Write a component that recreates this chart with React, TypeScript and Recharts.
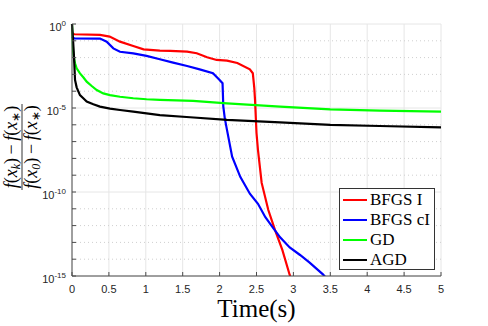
import React from "react";
import {
  CartesianGrid,
  Legend,
  Line,
  LineChart,
  ReferenceLine,
  XAxis,
  YAxis,
} from "recharts";

// values are log10 of the relative gap
const bfgsT = [0, 0.03, 0.38, 0.51, 0.65, 0.83, 0.97, 1.19, 1.33, 1.56, 1.69, 1.83, 1.96, 2.1, 2.24, 2.41, 2.45, 2.47, 2.48, 2.5, 2.52, 2.57, 2.66, 2.75, 2.85, 2.95, 2.98];
const bfgsLog = [-0.55, -0.61, -0.65, -0.75, -1.05, -1.31, -1.51, -1.59, -1.6, -1.65, -1.74, -1.98, -2.14, -2.18, -2.32, -2.7, -2.93, -3.8, -4.52, -6.49, -7.5, -9.46, -11.07, -12.26, -13.45, -14.94, -15.3];

const bfgsCT = [0, 0.03, 0.38, 0.47, 0.56, 0.65, 0.83, 1.01, 1.19, 1.37, 1.56, 1.73, 1.91, 2.0, 2.04, 2.05, 2.07, 2.1, 2.17, 2.28, 2.41, 2.52, 2.62, 2.72, 2.82, 2.95, 3.09, 3.22, 3.4, 3.46];
const bfgsCLog = [-0.75, -0.85, -0.87, -1.05, -1.45, -1.65, -1.75, -1.9, -2.1, -2.3, -2.5, -2.7, -2.93, -3.33, -3.53, -4.9, -5.6, -6.3, -7.9, -9.1, -10.1, -10.7, -11.5, -12.1, -12.7, -13.3, -13.75, -14.2, -14.9, -15.2];

const gdT = [0, 0.015, 0.027, 0.041, 0.063, 0.108, 0.153, 0.199, 0.267, 0.335, 0.424, 0.515, 0.65, 0.83, 1.01, 1.19, 1.64, 2.1, 2.82, 3.5, 4.17, 5];
const gdLog = [0, -1.6, -2.04, -2.34, -2.64, -2.94, -3.17, -3.43, -3.69, -3.93, -4.13, -4.23, -4.33, -4.42, -4.48, -4.52, -4.58, -4.72, -4.92, -5.08, -5.16, -5.22];

const agdT = [0, 0.012, 0.027, 0.041, 0.063, 0.108, 0.153, 0.199, 0.289, 0.379, 0.515, 0.65, 0.83, 1.01, 1.19, 1.6, 2.1, 2.82, 3.5, 4.17, 5];
const agdLog = [0, -0.8, -1.94, -3.33, -3.77, -4.23, -4.42, -4.62, -4.78, -4.92, -5.04, -5.12, -5.22, -5.32, -5.42, -5.55, -5.71, -5.85, -6.01, -6.07, -6.15];

const xTicks = [0, 0.5, 1, 1.5, 2, 2.5, 3, 3.5, 4, 4.5, 5];
const decades = [0, -1, -2, -3, -4, -5, -6, -7, -8, -9, -10, -11, -12, -13, -14, -15];
const yTicks = decades.map((d) => Math.pow(10, d));

const series = [
  { name: "BFGS I", color: "#ff0000", t: bfgsT, v: bfgsLog },
  { name: "BFGS cI", color: "#0000ff", t: bfgsCT, v: bfgsCLog },
  { name: "GD", color: "#00ff00", t: gdT, v: gdLog },
  { name: "AGD", color: "#000000", t: agdT, v: agdLog },
];

const toRows = (t: number[], v: number[]) =>
  t.map((x, i) => ({ t: x, y: Math.pow(10, v[i]) }));

const PLOT = { left: 72, right: 441, top: 24, bottom: 276 };
const AXIS = "#4a4a4a";
const TICK_FONT = "'Liberation Sans', Arial, sans-serif";
const SERIF = "'Liberation Serif', 'Times New Roman', serif";

const LeftTick = ({ y, payload }: any) => {
  const e = Math.round(Math.log10(payload.value));
  return (
    <g>
      <line x1={PLOT.left} x2={PLOT.left + 4} y1={y} y2={y} stroke={AXIS} />
      {e % 5 === 0 && (
        <text
          x={PLOT.left - 6}
          y={y + 6.5}
          textAnchor="end"
          fontFamily={TICK_FONT}
          fontSize={11}
          fill="#262626"
        >
          10
          <tspan dy={-5} fontSize={8}>
            {e === 0 ? "0" : String(e)}
          </tspan>
        </text>
      )}
    </g>
  );
};

const RightTick = ({ y }: any) => (
  <line x1={PLOT.right - 4} x2={PLOT.right} y1={y} y2={y} stroke={AXIS} />
);

const BottomTick = ({ x, payload }: any) => (
  <g>
    <line x1={x} x2={x} y1={PLOT.bottom} y2={PLOT.bottom - 4} stroke={AXIS} />
    <text
      x={x}
      y={293}
      textAnchor="middle"
      fontFamily={TICK_FONT}
      fontSize={11}
      fill="#262626"
    >
      {payload.value}
    </text>
  </g>
);

const TopTick = ({ x }: any) => (
  <line x1={x} x2={x} y1={PLOT.top} y2={PLOT.top + 4} stroke={AXIS} />
);

const Frac = ({ y, sub }: { y: number; sub: string }) => (
  <text x={0} y={y} textAnchor="middle" fontFamily={SERIF} fontSize={18}>
    <tspan fontStyle="italic">f</tspan>
    <tspan>(</tspan>
    <tspan fontStyle="italic">x</tspan>
    <tspan dy={3} fontSize={12} fontStyle="italic">{sub}</tspan>
    <tspan dy={-3}>{")\u2009\u2212\u2009"}</tspan>
    <tspan fontStyle="italic">f</tspan>
    <tspan>(</tspan>
    <tspan fontStyle="italic">x</tspan>
    <tspan dy={3} fontSize={12}>∗</tspan>
    <tspan dy={-3}>)</tspan>
  </text>
);

const YLabel = () => (
  <g transform="translate(22,147) rotate(-90)">
    <Frac y={-5} sub="k" />
    <line x1={-43} x2={43} y1={0} y2={0} stroke="#000" strokeWidth={0.8} />
    <Frac y={15} sub="0" />
  </g>
);

const XLabel = () => (
  <text x={256.5} y={317} textAnchor="middle" fontFamily={SERIF} fontSize={25} fill="#000">
    Time(s)
  </text>
);

const CustomLegend = () => (
  <div
    style={{
      width: 96,
      height: 82,
      boxSizing: "border-box",
      border: "1px solid #333",
      background: "#fff",
      paddingTop: 1,
      fontFamily: SERIF,
      fontSize: 17,
      color: "#000",
    }}
  >
    {series.map((s) => (
      <div key={s.name} style={{ display: "flex", alignItems: "center", height: 20 }}>
        <div style={{ width: 24, height: 2.5, marginLeft: 3, marginRight: 3, background: s.color }} />
        <span style={{ lineHeight: "20px", whiteSpace: "nowrap" }}>{s.name}</span>
      </div>
    ))}
  </div>
);

export default function App() {
  return (
    <div style={{ position: "absolute", left: 0, top: 0, width: 488, height: 326, background: "#fff" }}>
      <LineChart
        width={488}
        height={326}
        margin={{ top: 24, right: 47, bottom: 0, left: 0 }}
      >
        <CartesianGrid horizontal={false} stroke="#e6e6e6" />
        <XAxis
          type="number"
          dataKey="t"
          domain={[0, 5]}
          ticks={xTicks}
          interval={0}
          height={50}
          stroke={AXIS}
          tickLine={false}
          tick={<BottomTick />}
          label={{ content: () => <XLabel /> }}
        />
        <XAxis
          xAxisId="top"
          orientation="top"
          type="number"
          dataKey="t"
          domain={[0, 5]}
          ticks={xTicks}
          interval={0}
          height={0}
          stroke={AXIS}
          tickLine={false}
          tick={<TopTick />}
        />
        <YAxis
          scale="log"
          domain={[1e-15, 1]}
          allowDataOverflow
          ticks={yTicks}
          interval={0}
          width={72}
          stroke={AXIS}
          tickLine={false}
          tick={<LeftTick />}
          label={{ content: () => <YLabel /> }}
        />
        <YAxis
          yAxisId="r"
          orientation="right"
          scale="log"
          domain={[1e-15, 1]}
          allowDataOverflow
          ticks={yTicks}
          interval={0}
          width={0}
          stroke={AXIS}
          tickLine={false}
          tick={<RightTick />}
        />
        {decades.map((d) => (
          <ReferenceLine
            key={d}
            y={Math.pow(10, d)}
            stroke={d % 5 === 0 ? "#e6e6e6" : "#cfcfcf"}
            strokeDasharray={d % 5 === 0 ? undefined : "1 3"}
          />
        ))}
        {series.map((s) => (
          <Line
            key={s.name}
            data={toRows(s.t, s.v)}
            dataKey="y"
            name={s.name}
            type="linear"
            stroke={s.color}
            strokeWidth={2.2}
            dot={false}
            isAnimationActive={false}
          />
        ))}
        <Legend
          content={CustomLegend}
          layout="vertical"
          align="center"
          verticalAlign="middle"
          wrapperStyle={{ left: 339, top: 188, width: 96, height: 82 }}
        />
      </LineChart>
    </div>
  );
}
